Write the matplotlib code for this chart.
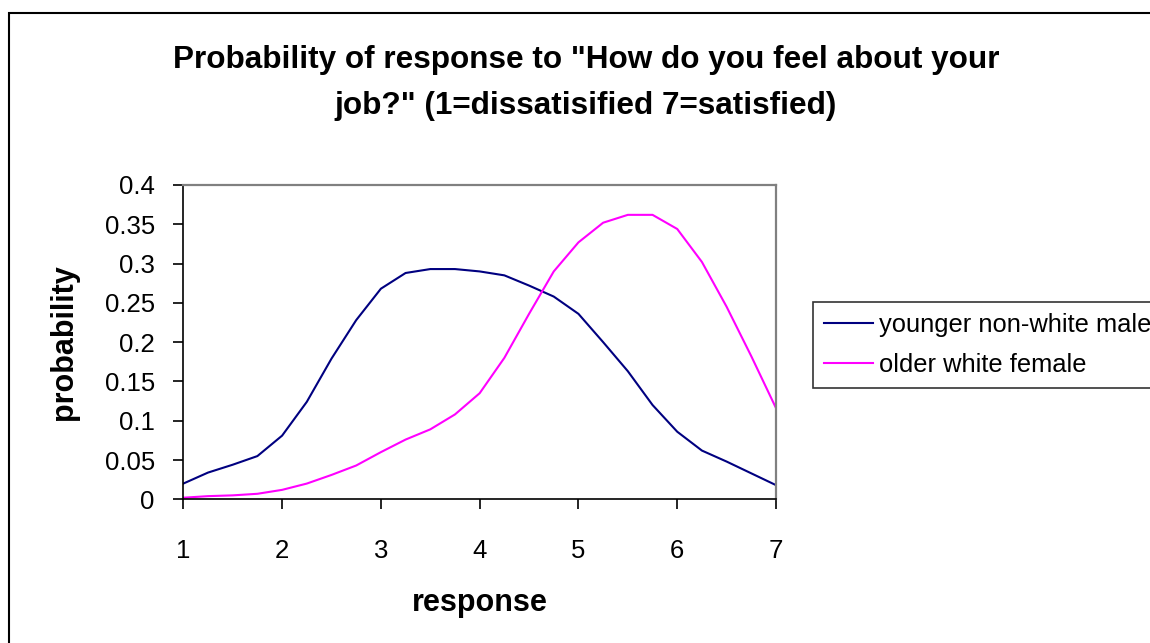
import numpy as np
import matplotlib
matplotlib.use("Agg")
from matplotlib import pyplot as plt
from matplotlib.patches import Rectangle

plt.rcParams['font.family'] = ['Liberation Sans', 'DejaVu Sans']

# response scale (1..7), sampled every 0.25
response = np.arange(1, 7.01, 0.25)
# younger non-white male
p_young = [0.020, 0.034, 0.044, 0.055, 0.081, 0.124, 0.179, 0.228, 0.268,
           0.288, 0.293, 0.293, 0.290, 0.285, 0.272, 0.258, 0.236, 0.200,
           0.163, 0.120, 0.086, 0.062, 0.048, 0.033, 0.018]
# older white female
p_old = [0.002, 0.004, 0.005, 0.007, 0.012, 0.020, 0.031, 0.043, 0.060,
         0.076, 0.089, 0.108, 0.135, 0.180, 0.236, 0.290, 0.327, 0.352,
         0.362, 0.362, 0.344, 0.302, 0.245, 0.182, 0.116]
labels = ["younger non-white male", "older white female"]

fig = plt.figure(figsize=(11.5, 6.43), dpi=100)
ax = fig.add_axes([0.1594, 0.2235, 0.5154, 0.4888])

ax.plot(response, p_young, color='#000080', lw=1.5, label=labels[0])
ax.plot(response, p_old, color='#FF00FF', lw=1.5, label=labels[1])

ax.set_xlim(1, 7)
ax.set_ylim(0, 0.4)
ax.set_xticks(np.arange(1, 8))
ax.set_yticks(np.arange(0, 0.41, 0.05))
ax.set_yticklabels(['0', '0.05', '0.1', '0.15', '0.2', '0.25', '0.3', '0.35', '0.4'])

# excel style frame
ax.spines['left'].set_color('black')
ax.spines['bottom'].set_color('black')
ax.spines['left'].set_linewidth(1.2)
ax.spines['bottom'].set_linewidth(1.2)
ax.spines['top'].set_color('#808080')
ax.spines['right'].set_color('#808080')
ax.spines['top'].set_linewidth(1.6)
ax.spines['right'].set_linewidth(1.6)
ax.tick_params(axis='both', direction='out', length=7.5, width=1.2, labelsize=18.5)
ax.tick_params(axis='y', pad=13)
ax.tick_params(axis='x', pad=21)

ax.set_xlabel('response', fontsize=22, fontweight='bold')
ax.xaxis.set_label_coords(0.5, -0.33)
ax.xaxis.label.set_va('center')
ax.set_ylabel('probability', fontsize=22, fontweight='bold')
ax.yaxis.set_label_coords(-0.201, 0.5)
ax.yaxis.label.set_va('center')

fig.suptitle('Probability of response to "How do you feel about your\n'
             'job?" (1=dissatisified 7=satisfied)',
             x=0.5096, y=0.8709, va='center', fontsize=22.7, fontweight='bold',
             linespacing=1.72)

leg = fig.legend(loc='upper left', bbox_to_anchor=(812.7 / 1150, 1 - 301.7 / 643),
                 fontsize=18.4, frameon=True, fancybox=False, edgecolor='black',
                 borderpad=0.45, borderaxespad=0, handlelength=1.9,
                 handletextpad=0.23, labelspacing=0.6)
leg.get_frame().set_linewidth(1.2)

# outer chart border (runs off the right and bottom edges)
fig.add_artist(Rectangle((8.5 / 1150, -0.1), 1.2, 1 - 13 / 643 + 0.1,
                         transform=fig.transFigure, fill=False,
                         edgecolor='black', lw=1.5))

fig.savefig('out.png', dpi=100)
